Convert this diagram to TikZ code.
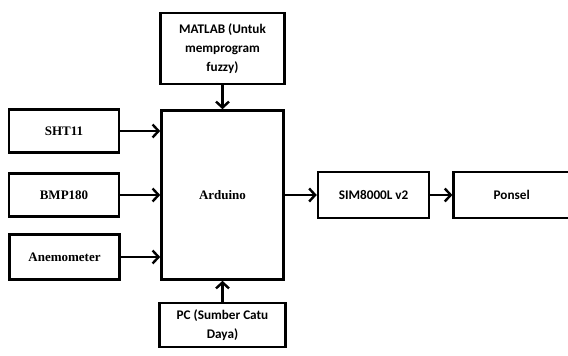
\documentclass[tikz,border=0pt]{standalone}
\usepackage{fontspec}
\setmainfont{Liberation Serif}
\newfontfamily\calibrifont{Carlito}
\usepackage{tikz}
\usetikzlibrary{arrows.meta,positioning}

\begin{document}
\begin{tikzpicture}[x=1pt,y=-1pt,
  node distance=20pt and 30pt,
  blok/.style={draw,line width=2.6pt,align=center,inner sep=2pt},
  serif/.style={blok,font=\fontsize{13}{16}\selectfont\bfseries},
  sans/.style={blok,font=\calibrifont\fontsize{13.2}{19}\selectfont\bfseries},
  panah/.style={->,line width=2.4pt},
  >={Straight Barb[length=6pt,width=13pt]}]
\useasboundingbox (0,0) rectangle (568,356);
\node[serif,minimum width=122pt,minimum height=169pt] (ard) at (222.5,195) {Arduino};
\node[sans,above=24pt of ard,minimum width=124pt,minimum height=71pt] (mat) {MATLAB (Untuk\\memprogram\\fuzzy)};
\node[sans,below=21pt of ard,minimum width=126pt,minimum height=44pt] (pc) {PC (Sumber Catu\\Daya)};
\node[serif,minimum width=110pt,minimum height=43pt] (sht) at (64,131) {SHT11};
\node[serif,minimum width=110pt,minimum height=43pt] (bmp) at (64,195) {BMP180};
\node[serif,minimum width=110pt,minimum height=45pt] (ane) at (64.5,257) {Anemometer};
\node[sans,right=32pt of ard.east,anchor=west,minimum width=111pt,minimum height=46pt] (sim) {SIM8000L v2};
\node[sans,right=22pt of sim,minimum width=116pt,minimum height=46pt] (pon) {Ponsel};
% panah masuk ke Arduino
\draw[panah] (sht) -- (sht -| ard.west);
\draw[panah] (bmp) -- (bmp -| ard.west);
\draw[panah] (ane) -- (ane -| ard.west);
\draw[panah] (mat) -- (ard);
\draw[panah] (pc) -- (ard);
% keluaran
\draw[panah] (ard.east |- sim) -- (sim);
\draw[panah] (sim) -- (pon);
\end{tikzpicture}
\end{document}
